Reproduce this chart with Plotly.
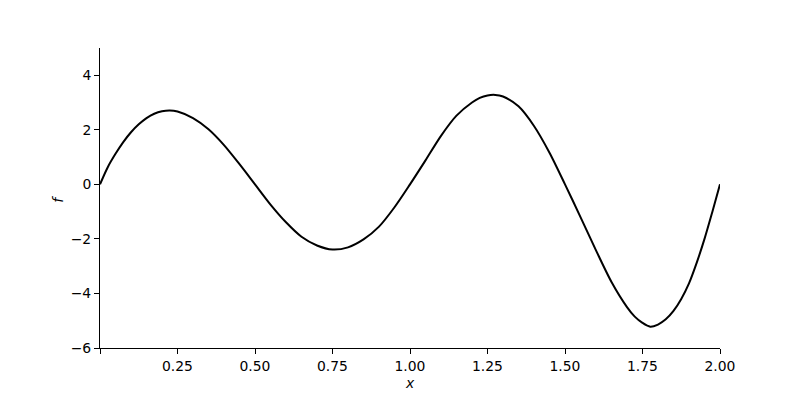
import plotly.graph_objects as go

x_vals = [0, 0.025, 0.05, 0.075, 0.1, 0.125, 0.15, 0.175, 0.2, 0.225, 0.25, 0.3, 0.35, 0.4, 0.45, 0.5,
          0.55, 0.6, 0.65, 0.7, 0.75, 0.8, 0.85, 0.9, 0.95, 1.0,
          1.05, 1.1, 1.15, 1.2, 1.225, 1.25, 1.275, 1.3, 1.35, 1.4, 1.45, 1.5,
          1.55, 1.6, 1.65, 1.7, 1.725, 1.75, 1.775, 1.8, 1.825, 1.85, 1.875, 1.9,
          1.925, 1.95, 1.975, 2.0]
f_vals = [0, 0.63, 1.12, 1.55, 1.91, 2.2, 2.43, 2.59, 2.68, 2.71, 2.67, 2.43, 2.02, 1.44, 0.74, 0,
          -0.74, -1.39, -1.92, -2.24, -2.39, -2.31, -2.02, -1.55, -0.84, 0,
          0.88, 1.78, 2.52, 3.0, 3.17, 3.26, 3.28, 3.22, 2.86, 2.14, 1.16, 0,
          -1.2, -2.42, -3.58, -4.5, -4.85, -5.08, -5.22, -5.14, -4.95, -4.64, -4.2, -3.63,
          -2.87, -2.0, -1.02, 0]

x_ticks = [0, 0.25, 0.5, 0.75, 1.0, 1.25, 1.5, 1.75, 2.0]
x_ticklabels = ["", "0.25", "0.50", "0.75", "1.00", "1.25", "1.50", "1.75", "2.00"]
y_ticks = [-6, -4, -2, 0, 2, 4]
y_ticklabels = ["\u22126", "\u22124", "\u22122", "0", "2", "4"]

font = "DejaVu Sans"

fig = go.Figure()
fig.add_trace(go.Scatter(x=x_vals, y=f_vals, mode="lines",
                         line=dict(color="black", width=2, shape="spline", smoothing=0.8),
                         showlegend=False, hoverinfo="skip"))

fig.update_layout(
    width=800, height=400,
    margin=dict(l=92, r=88, t=40, b=60),
    paper_bgcolor="white", plot_bgcolor="white",
    font=dict(family=font, size=13.9, color="black"),
    xaxis=dict(range=[0, 2], tickvals=x_ticks, ticktext=x_ticklabels,
               showline=True, linecolor="black", linewidth=1, mirror=False,
               ticks="outside", ticklen=5, tickwidth=1, tickcolor="black",
               showgrid=False, zeroline=False),
    yaxis=dict(range=[-6, 5], tickvals=y_ticks, ticktext=y_ticklabels,
               showline=True, linecolor="black", linewidth=1, mirror=False,
               ticks="outside", ticklen=5, tickwidth=1, tickcolor="black",
               showgrid=False, zeroline=False),
    annotations=[
        dict(text="<i>x</i>", x=0.5, y=-0.117, xref="paper", yref="paper",
             xanchor="center", yanchor="middle", showarrow=False,
             font=dict(family=font, size=13.9, color="black")),
        dict(text="<i>f</i>", x=-0.069, y=0.495, xref="paper", yref="paper",
             xanchor="center", yanchor="middle", showarrow=False, textangle=-90,
             font=dict(family=font, size=13.9, color="black")),
    ],
)

fig.write_html("out.html")
